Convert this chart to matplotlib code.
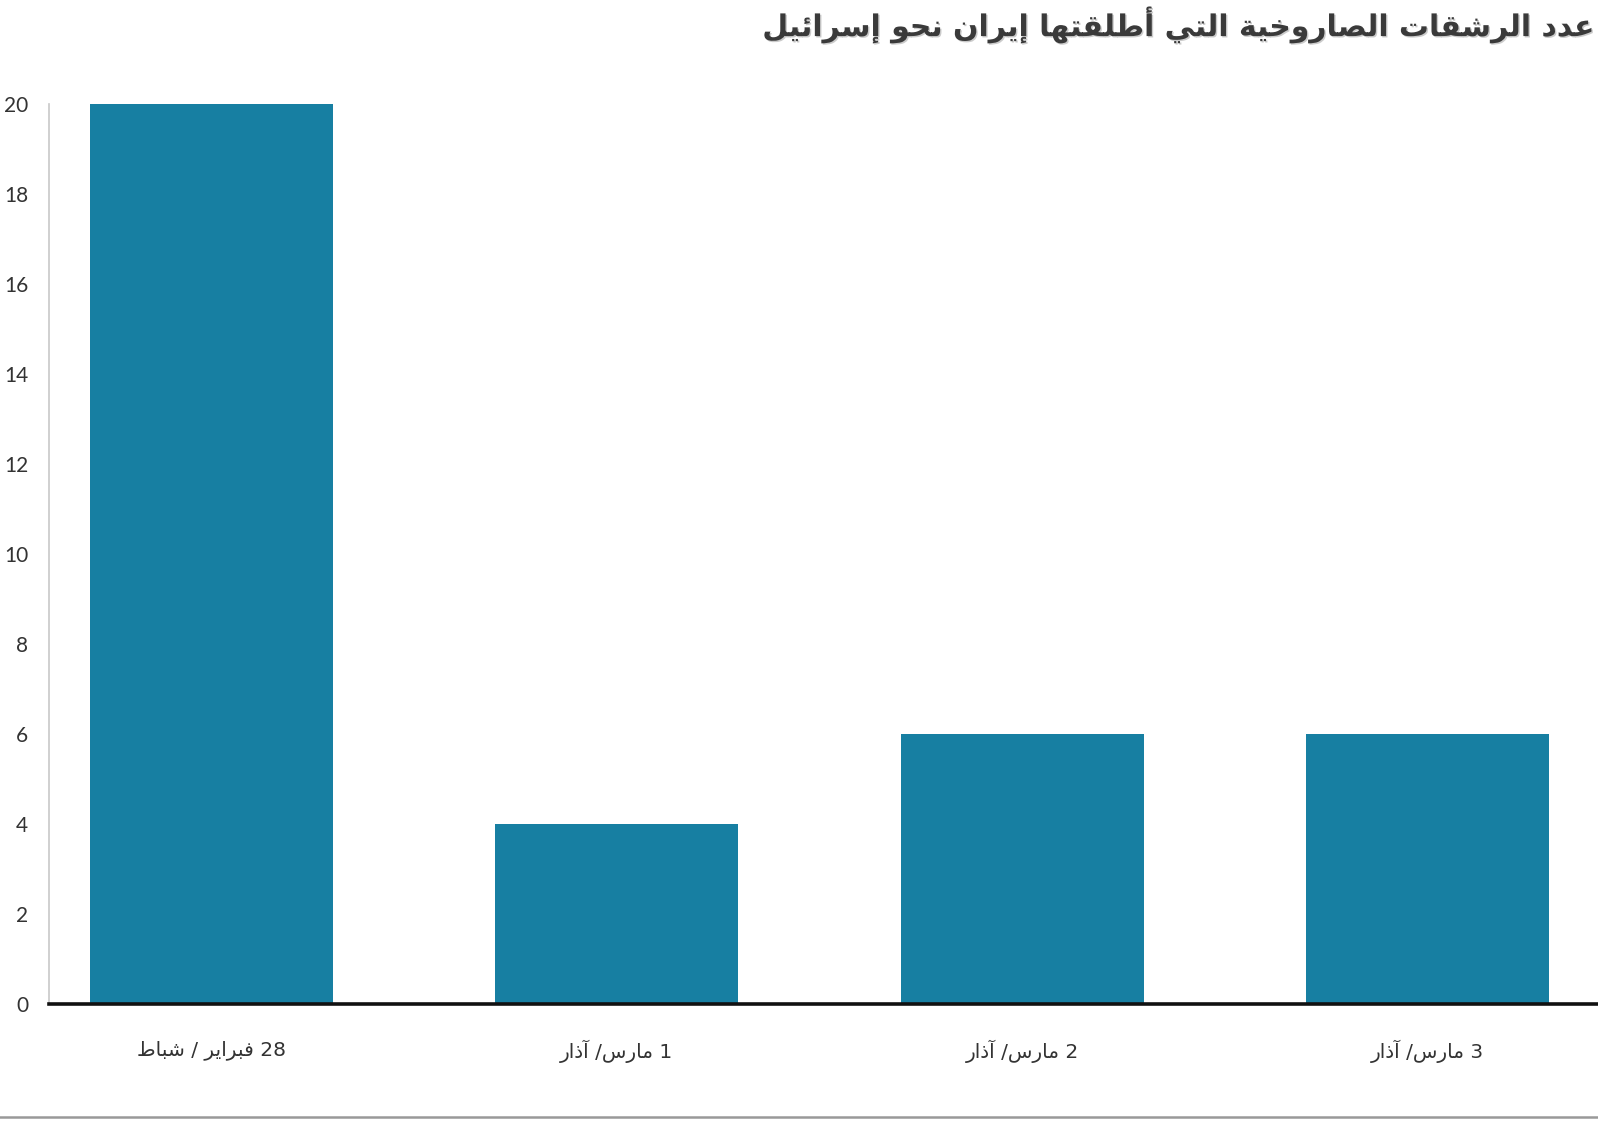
import matplotlib
matplotlib.use("Agg")
import matplotlib.pyplot as plt
from matplotlib.lines import Line2D
import matplotlib.patheffects as pe

# ---------------- data ----------------
categories = ["28 فبراير / شباط", "1 مارس/ آذار", "2 مارس/ آذار", "3 مارس/ آذار"]
values = [20, 4, 6, 6]
yticks = [0, 2, 4, 6, 8, 10, 12, 14, 16, 18, 20]
title = "عدد الرشقات الصاروخية التي أطلقتها إيران نحو إسرائيل"

# ------------- minimal Arabic shaping (matplotlib has no complex text layout) -------------
_DUAL = {0x0626: 0xFE89, 0x0628: 0xFE8F, 0x062A: 0xFE95, 0x062B: 0xFE99, 0x062C: 0xFE9D,
         0x062D: 0xFEA1, 0x062E: 0xFEA5, 0x0633: 0xFEB1, 0x0634: 0xFEB5, 0x0635: 0xFEB9,
         0x0636: 0xFEBD, 0x0637: 0xFEC1, 0x0638: 0xFEC5, 0x0639: 0xFEC9, 0x063A: 0xFECD,
         0x0641: 0xFED1, 0x0642: 0xFED5, 0x0643: 0xFED9, 0x0644: 0xFEDD, 0x0645: 0xFEE1,
         0x0646: 0xFEE5, 0x0647: 0xFEE9, 0x064A: 0xFEF1}
_RIGHT = {0x0622: 0xFE81, 0x0623: 0xFE83, 0x0624: 0xFE85, 0x0625: 0xFE87, 0x0627: 0xFE8D,
          0x0629: 0xFE93, 0x062F: 0xFEA9, 0x0630: 0xFEAB, 0x0631: 0xFEAD, 0x0632: 0xFEAF,
          0x0648: 0xFEED, 0x0649: 0xFEEF}
_LAMALEF = {0x0622: 0xFEF5, 0x0623: 0xFEF7, 0x0625: 0xFEF9, 0x0627: 0xFEFB}


def _joins(c):
    return c is not None and (ord(c) in _DUAL or ord(c) in _RIGHT)


def _shape(s):
    chars = []
    i = 0
    while i < len(s):
        if ord(s[i]) == 0x0644 and i + 1 < len(s) and ord(s[i + 1]) in _LAMALEF:
            chars.append(("LA", s[i + 1]))
            i += 2
        else:
            chars.append(("C", s[i]))
            i += 1
    out = []
    for k, (kind, c) in enumerate(chars):
        prev = chars[k - 1] if k > 0 else None
        nxt = chars[k + 1] if k + 1 < len(chars) else None
        prev_connects = prev is not None and prev[0] == "C" and ord(prev[1]) in _DUAL
        if kind == "LA":
            base = _LAMALEF[ord(c)]
            out.append(chr(base + (1 if prev_connects else 0)))
            continue
        o = ord(c)
        next_connects = nxt is not None and (nxt[0] == "LA" or _joins(nxt[1]))
        if o in _DUAL:
            b = _DUAL[o]
            if prev_connects and next_connects:
                out.append(chr(b + 3))
            elif prev_connects:
                out.append(chr(b + 1))
            elif next_connects:
                out.append(chr(b + 2))
            else:
                out.append(chr(b))
        elif o in _RIGHT:
            b = _RIGHT[o]
            out.append(chr(b + 1) if prev_connects else chr(b))
        else:
            out.append(c)
    return "".join(out)


def rtl(s):
    shaped = _shape(s)
    runs = []
    for ch in shaped:
        isdig = ch.isdigit()
        if runs and runs[-1][0] == isdig:
            runs[-1][1] += ch
        else:
            runs.append([isdig, ch])
    runs.reverse()
    return "".join(r[1] if r[0] else r[1][::-1] for r in runs)


# ---------------- figure ----------------
W, H = 1598, 1122
fig = plt.figure(figsize=(W / 100, H / 100), dpi=100)
fig.patch.set_facecolor("white")

ax_left, ax_right = 49 / W, 1.0
ax_bottom, ax_top = (H - 1004) / H, (H - 104) / H
ax = fig.add_axes([ax_left, ax_bottom, ax_right - ax_left, ax_top - ax_bottom])

x = list(range(len(values)))
ax.bar(x, values, width=0.6, color="#177fa2", zorder=2)

ax.set_xlim(-0.40, 3.42)
ax.set_ylim(0, 20)
ax.set_yticks(yticks)
ax.set_yticklabels([str(t) for t in yticks], fontfamily="Lato", fontsize=15, color="#333333")
ax.tick_params(axis="y", length=0, pad=15)
ax.set_xticks(x)
ax.set_xticklabels([rtl(c) for c in categories], fontfamily="DejaVu Sans", fontsize=14.5,
                   color="#333333")
ax.tick_params(axis="x", length=0, pad=26)

for s in ["top", "right"]:
    ax.spines[s].set_visible(False)
ax.spines["left"].set_color("#c8c8c8")
ax.spines["left"].set_linewidth(1.2)
ax.spines["bottom"].set_color("#111111")
ax.spines["bottom"].set_linewidth(2.6)
ax.spines["bottom"].set_zorder(3)

# title
t = fig.text(0.999, 1 - 25 / H, rtl(title), ha="right", va="center", fontsize=21.5,
             fontweight="bold", fontfamily="DejaVu Sans", color="#3a3a3a")
t.set_path_effects([pe.withSimplePatchShadow(offset=(1.0, -1.0), shadow_rgbFace="#999999", alpha=0.5)])

# bottom rule
fig.add_artist(Line2D([0, 1], [1 - 1117 / H, 1 - 1117 / H], color="#999999", linewidth=1.8,
                      transform=fig.transFigure))

fig.savefig("out.png", dpi=100, facecolor="white")
